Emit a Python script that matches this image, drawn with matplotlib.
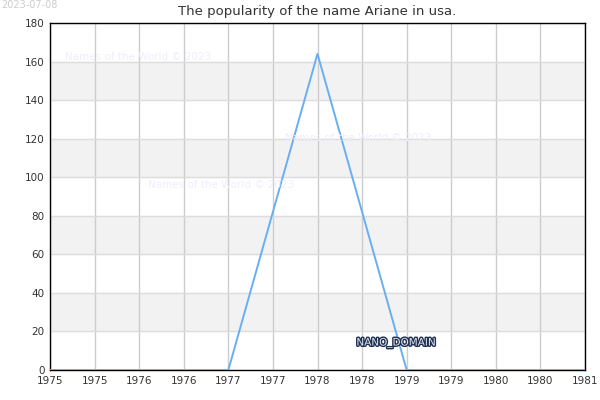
import numpy as np
import matplotlib.pyplot as plt
import matplotlib.patheffects as pe
from matplotlib.ticker import FuncFormatter, MultipleLocator

years = [1975, 1976, 1977, 1978, 1979, 1980, 1981]
counts = [0, 0, 0, 164, 0, 0, 0]
y_ticks = [0, 20, 40, 60, 80, 100, 120, 140, 160, 180]
title = "The popularity of the name Ariane in usa."

fig = plt.figure(figsize=(6, 4), dpi=100)
ax = fig.add_axes([50 / 600, 30 / 400, 535 / 600, 347 / 400])

# grey bands
for lo in range(20, 180, 40):
    ax.axhspan(lo, lo + 20, color='#f2f2f2', zorder=0)

ax.plot(years, counts, color='#6aaef2', linewidth=1.4, zorder=3)

ax.set_xlim(1975, 1981)
ax.set_ylim(0, 180)
ax.set_yticks(y_ticks)
ax.xaxis.set_major_locator(MultipleLocator(0.5))
ax.xaxis.set_major_formatter(FuncFormatter(lambda v, p: str(int(np.floor(v + 1e-9)))))
ax.grid(axis='x', color='#cccccc', linewidth=1, zorder=1)
ax.grid(axis='y', color='#dddddd', linewidth=1, zorder=1)
ax.set_axisbelow(True)
ax.tick_params(labelsize=7.5, colors='#333333', length=0, pad=4)
for s in ax.spines.values():
    s.set_color('black')
    s.set_linewidth(1)

ax.set_title(title, fontsize=9.5, color='#333333', pad=6)

# watermarks
wm = "Names of the World © 2023"
for px, py in [(65, 57), (285, 138), (148, 185)]:
    fig.text(px / 600, 1 - py / 400, wm, fontsize=7.5, color='#eeeefc', va='center', ha='left')

ax.text(1978.88, 14, "NANO_DOMAIN", fontsize=7.5, color='#dfe6f2', ha='center', va='center',
        path_effects=[pe.withStroke(linewidth=2, foreground='#1f2f4f')], zorder=5)

fig.text(0.002, 0.999, "2023-07-08", fontsize=7, color='#cccccc', ha='left', va='top')

fig.savefig('out.png', dpi=100)
